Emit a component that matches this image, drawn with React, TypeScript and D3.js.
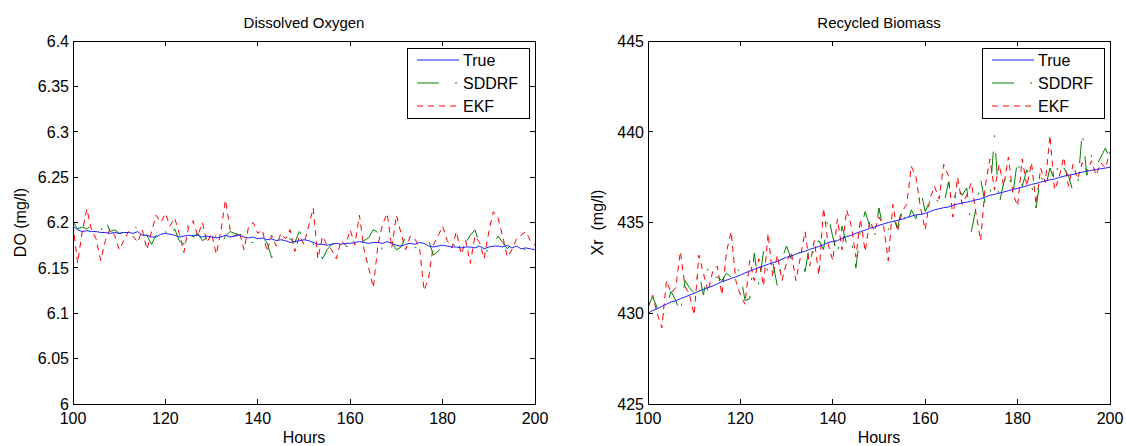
import React from "react";
import * as d3 from "d3";

const hours: number[] = d3.range(100, 201);

const doTrue: number[] = [
  6.196, 6.192, 6.190, 6.191, 6.190, 6.190, 6.189, 6.189, 6.188, 6.189, 6.188,
  6.189, 6.189, 6.188, 6.190, 6.186, 6.186, 6.184, 6.184, 6.187, 6.188,
  6.187, 6.186, 6.184, 6.185, 6.186, 6.185, 6.186, 6.184, 6.185, 6.184,
  6.183, 6.184, 6.186, 6.184, 6.185, 6.186, 6.184, 6.183, 6.184, 6.182,
  6.183, 6.181, 6.182, 6.180, 6.181, 6.180, 6.178, 6.179, 6.180, 6.181,
  6.180, 6.178, 6.176, 6.176, 6.175, 6.176, 6.177, 6.176, 6.177, 6.177,
  6.178, 6.179, 6.178, 6.177, 6.178, 6.178, 6.177, 6.179, 6.177, 6.175,
  6.174, 6.176, 6.177, 6.176, 6.178, 6.177, 6.174, 6.173, 6.174, 6.175,
  6.174, 6.173, 6.173, 6.172, 6.173, 6.173, 6.172, 6.174, 6.171, 6.173,
  6.174, 6.174, 6.173, 6.175, 6.172, 6.174, 6.171, 6.172, 6.171, 6.170,
];

const doSddrf: number[] = [
  6.201, 6.193, 6.195, 6.193, 6.197, 6.191, 6.190, 6.204, 6.190, 6.192, 6.188,
  6.189, 6.190, 6.197, 6.193, 6.183, 6.186, 6.176, 6.186, 6.180, 6.190,
  6.182, 6.193, 6.180, 6.176, 6.200, 6.184, 6.188, 6.180, 6.183, 6.192,
  6.184, 6.175, 6.185, 6.190, 6.188, 6.186, 6.188, 6.178, 6.178, 6.186,
  6.183, 6.178, 6.161, 6.178, 6.186, 6.180, 6.182, 6.178, 6.190, 6.182,
  6.182, 6.176, 6.175, 6.160, 6.170, 6.176, 6.178, 6.181, 6.174, 6.173,
  6.176, 6.176, 6.180, 6.183, 6.192, 6.189, 6.168, 6.173, 6.178, 6.170,
  6.173, 6.184, 6.176, 6.172, 6.174, 6.176, 6.180, 6.164, 6.168, 6.175,
  6.177, 6.176, 6.174, 6.172, 6.178, 6.186, 6.192, 6.176, 6.170, 6.168,
  6.176, 6.185, 6.178, 6.171, 6.176, 6.173, 6.172, 6.170, 6.168, 6.171,
];

const doEkf: number[] = [
  6.198, 6.155, 6.190, 6.215, 6.192, 6.182, 6.158, 6.180, 6.193, 6.186, 6.170,
  6.180, 6.190, 6.185, 6.178, 6.192, 6.170, 6.190, 6.208, 6.200, 6.210,
  6.196, 6.205, 6.188, 6.167, 6.195, 6.202, 6.185, 6.200, 6.178, 6.188,
  6.165, 6.190, 6.225, 6.192, 6.185, 6.190, 6.170, 6.195, 6.200, 6.188,
  6.192, 6.168, 6.186, 6.174, 6.188, 6.182, 6.192, 6.168, 6.185, 6.176,
  6.196, 6.216, 6.160, 6.185, 6.175, 6.170, 6.160, 6.180, 6.175, 6.192,
  6.175, 6.208, 6.170, 6.150, 6.128, 6.175, 6.198, 6.210, 6.172, 6.208,
  6.188, 6.170, 6.185, 6.182, 6.172, 6.125, 6.140, 6.175, 6.185, 6.196,
  6.180, 6.172, 6.190, 6.165, 6.180, 6.155, 6.185, 6.178, 6.160, 6.190,
  6.212, 6.205, 6.185, 6.162, 6.170, 6.182, 6.186, 6.190, 6.180, 6.175,
];

const xrTrue: number[] = [
  430.00, 430.15, 430.25, 430.38, 430.50, 430.62, 430.68, 430.80, 430.90, 431.00, 431.10,
  431.22, 431.32, 431.42, 431.50, 431.62, 431.75, 431.82, 431.92, 432.00, 432.10,
  432.22, 432.32, 432.42, 432.52, 432.60, 432.70, 432.78, 432.85, 432.98, 433.08,
  433.15, 433.25, 433.35, 433.42, 433.52, 433.60, 433.68, 433.78, 433.90, 433.95,
  434.00, 434.12, 434.22, 434.30, 434.40, 434.50, 434.58, 434.68, 434.75, 434.85,
  434.92, 435.00, 435.05, 435.12, 435.18, 435.28, 435.35, 435.42, 435.45, 435.50,
  435.60, 435.70, 435.75, 435.82, 435.85, 435.95, 436.02, 436.08, 436.12, 436.18,
  436.25, 436.30, 436.40, 436.50, 436.55, 436.62, 436.68, 436.75, 436.82, 436.88,
  436.95, 437.02, 437.10, 437.15, 437.22, 437.30, 437.35, 437.40, 437.48, 437.55,
  437.60, 437.65, 437.72, 437.78, 437.82, 437.88, 437.92, 437.96, 438.00, 438.05,
];

const xrSddrf: number[] = [
  430.4, 430.9, 430.3, 429.7, 430.4, 431.2, 430.7, 430.0, 431.8, 431.4, 431.1,
  432.3, 431.0, 432.5, 431.9, 432.0, 431.8, 432.2, 432.0, 432.6, 432.2,
  430.7, 430.8, 433.3, 431.5, 433.4, 432.2, 432.8, 431.5, 433.0, 433.7,
  433.0, 433.6, 433.3, 432.3, 433.8, 433.2, 434.0, 433.5, 435.4, 434.2,
  433.2, 434.8, 433.8, 434.1, 432.5, 434.6, 435.6, 434.8, 434.1, 435.8,
  434.5, 434.6, 435.3, 434.7, 435.8, 434.8, 435.7, 435.2, 436.8, 435.6,
  436.2, 436.5, 436.0, 435.9, 437.2, 436.2, 437.0, 436.5, 436.9, 434.5,
  435.8, 437.4, 436.0, 436.4, 439.8, 436.0, 437.2, 437.8, 436.6, 438.5,
  437.0, 437.9, 437.1, 435.8, 437.6, 436.9, 438.0, 437.3, 438.4, 438.0,
  437.6, 436.7, 437.0, 440.0, 437.6, 438.7, 438.1, 438.6, 439.1, 438.5,
];

const xrEkf: number[] = [
  430.3, 431.0, 430.0, 429.2, 431.8, 431.1, 431.4, 433.4, 431.5, 431.0, 429.9,
  433.2, 432.2, 431.2, 432.3, 432.6, 431.0, 433.4, 434.5, 431.8, 431.0,
  430.5, 432.9, 431.8, 433.0, 431.5, 434.4, 432.0, 433.2, 431.8, 432.8,
  433.4, 431.8, 433.1, 434.5, 432.6, 434.0, 432.1, 435.8, 433.8, 432.9,
  435.2, 433.5, 435.7, 434.8, 433.1, 435.2, 433.4, 435.1, 434.5, 435.3,
  434.8, 432.9, 436.0, 434.5, 435.6, 436.0, 438.1, 437.5, 435.8, 434.6,
  436.3, 437.0, 436.3, 438.2, 437.6, 435.3, 437.5, 436.0, 436.5, 437.2,
  435.5, 434.0, 437.0, 438.5, 436.8, 438.2, 437.0, 438.6, 436.6, 435.9,
  438.5, 437.0, 438.3, 436.0, 438.0, 437.2, 439.8, 436.8, 437.5, 438.6,
  437.0, 438.2, 437.4, 438.3, 437.8, 438.4, 437.6, 438.3, 438.0, 438.9,
];

const xTicks: number[] = [100, 120, 140, 160, 180, 200];
const doTicks: number[] = [6, 6.05, 6.1, 6.15, 6.2, 6.25, 6.3, 6.35, 6.4];
const xrTicks: number[] = [425, 430, 435, 440, 445];
const legendNames: string[] = ["True", "SDDRF", "EKF"];

const FONT = "'Liberation Sans', Arial, Helvetica, sans-serif";
const COLORS = ["#2020ff", "#008000", "#ff0000"];
const DASHES = [undefined, "22,16,2,16", "6,5"];

type PanelProps = {
  left: number;
  right: number;
  top: number;
  bottom: number;
  yDomain: [number, number];
  yTicks: number[];
  yFormat: (v: number) => string;
  title: string;
  ylabel: string;
  ylabelX: number;
  series: number[][];
};

function Panel(p: PanelProps) {
  const x = d3.scaleLinear().domain([100, 200]).range([p.left, p.right]);
  const y = d3.scaleLinear().domain(p.yDomain).range([p.bottom, p.top]);
  const line = d3
    .line<number>()
    .x((_, i) => x(hours[i]))
    .y((d) => y(d));
  const tl = 5;
  const cx = (p.left + p.right) / 2;
  const cy = (p.top + p.bottom) / 2;
  const lgX0 = p.right - 128;
  const lgX1 = p.right - 6;
  const lgY0 = p.top + 7;
  const lgY1 = p.top + 77;
  const rowY = [p.top + 19, p.top + 42, p.top + 65];
  const clipId = "clip-" + p.title.replace(/\s/g, "");
  return (
    <g fontFamily={FONT}>
      <defs>
        <clipPath id={clipId}>
          <rect x={p.left} y={p.top} width={p.right - p.left} height={p.bottom - p.top} />
        </clipPath>
      </defs>
      <g clipPath={`url(#${clipId})`}>
        {[2, 1, 0].map((k) => (
          <path
            key={k}
            d={line(p.series[k]) || ""}
            fill="none"
            stroke={COLORS[k]}
            strokeWidth={1}
            strokeDasharray={DASHES[k]}
          />
        ))}
      </g>
      <rect
        x={p.left}
        y={p.top}
        width={p.right - p.left}
        height={p.bottom - p.top}
        fill="none"
        stroke="#000"
        strokeWidth={1}
        shapeRendering="crispEdges"
      />
      {xTicks.map((t) => (
        <g key={"x" + t}>
          <line x1={x(t)} x2={x(t)} y1={p.bottom} y2={p.bottom - tl} stroke="#000" shapeRendering="crispEdges" />
          <line x1={x(t)} x2={x(t)} y1={p.top} y2={p.top + tl} stroke="#000" shapeRendering="crispEdges" />
          <text x={x(t)} y={p.bottom + 20} textAnchor="middle" fontSize={16} fill="#000">
            {t}
          </text>
        </g>
      ))}
      {p.yTicks.map((t) => (
        <g key={"y" + t}>
          <line x1={p.left} x2={p.left + tl} y1={y(t)} y2={y(t)} stroke="#000" shapeRendering="crispEdges" />
          <line x1={p.right} x2={p.right - tl} y1={y(t)} y2={y(t)} stroke="#000" shapeRendering="crispEdges" />
          <text x={p.left - 4} y={y(t)} dy="0.36em" textAnchor="end" fontSize={16} fill="#000">
            {p.yFormat(t)}
          </text>
        </g>
      ))}
      <text x={cx} y={p.top - 13} textAnchor="middle" fontSize={15} fill="#000">
        {p.title}
      </text>
      <text x={cx} y={p.bottom + 39} textAnchor="middle" fontSize={16} fill="#000">
        Hours
      </text>
      <text
        transform={`translate(${p.ylabelX},${cy}) rotate(-90)`}
        textAnchor="middle"
        fontSize={16}
        fill="#000"
        style={{ whiteSpace: "pre" }}
      >
        {p.ylabel}
      </text>
      <rect
        x={lgX0}
        y={lgY0}
        width={lgX1 - lgX0}
        height={lgY1 - lgY0}
        fill="#fff"
        stroke="#000"
        strokeWidth={1}
        shapeRendering="crispEdges"
      />
      {legendNames.map((n, k) => (
        <g key={n}>
          <line
            x1={lgX0 + 10}
            x2={lgX0 + 52}
            y1={rowY[k]}
            y2={rowY[k]}
            stroke={COLORS[k]}
            strokeWidth={1}
            strokeDasharray={DASHES[k]}
          />
          <text x={lgX0 + 56} y={rowY[k]} dy="0.36em" fontSize={16} fill="#000">
            {n}
          </text>
        </g>
      ))}
    </g>
  );
}

export default function App() {
  return (
    <svg
      width={1126}
      height={446}
      style={{ position: "absolute", left: 0, top: 0, background: "#fff" }}
    >
      <rect x={0} y={0} width={1126} height={446} fill="#fff" />
      <Panel
        left={73}
        right={535}
        top={41}
        bottom={404}
        yDomain={[6, 6.4]}
        yTicks={doTicks}
        yFormat={(v) => String(+v.toFixed(2))}
        title="Dissolved Oxygen"
        ylabel="DO (mg/l)"
        ylabelX={26}
        series={[doTrue, doSddrf, doEkf]}
      />
      <Panel
        left={648}
        right={1110}
        top={41}
        bottom={404}
        yDomain={[425, 445]}
        yTicks={xrTicks}
        yFormat={(v) => String(v)}
        title="Recycled Biomass"
        ylabel="Xr  (mg/l)"
        ylabelX={603}
        series={[xrTrue, xrSddrf, xrEkf]}
      />
    </svg>
  );
}
